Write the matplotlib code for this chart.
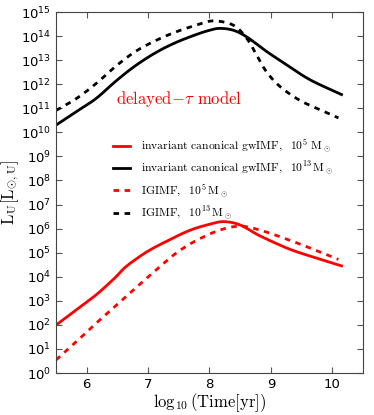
import numpy as np
import matplotlib
matplotlib.use("Agg")
import matplotlib.pyplot as plt
from matplotlib.ticker import LogLocator, NullLocator

# log10(L_U), vs log10(time/yr)
t_inv13 = [5.5, 5.83, 6.15, 6.48, 6.80, 7.13, 7.45, 7.78, 8.0, 8.17, 8.39, 8.61, 8.93, 9.26, 9.64, 10.15]
L_inv13 = [10.30, 10.86, 11.40, 12.14, 12.78, 13.32, 13.73, 14.06, 14.24, 14.32, 14.24, 13.96, 13.36, 12.80, 12.18, 11.57]

t_ig13 = [5.5, 5.83, 6.15, 6.48, 6.80, 7.13, 7.45, 7.78, 8.06, 8.39, 8.61, 8.77, 8.93, 9.15, 9.47, 9.8, 10.1]
L_ig13 = [10.91, 11.40, 12.02, 12.76, 13.37, 13.82, 14.17, 14.45, 14.63, 14.45, 13.89, 13.2, 12.51, 11.90, 11.33, 10.94, 10.6]

t_inv5 = [5.5, 5.83, 6.15, 6.45, 6.64, 6.97, 7.29, 7.67, 8.0, 8.23, 8.5, 8.82, 9.31, 9.75, 10.15]
L_inv5 = [1.99, 2.62, 3.24, 3.93, 4.42, 5.02, 5.46, 5.92, 6.18, 6.29, 6.15, 5.70, 5.14, 4.77, 4.45]

t_ig5 = [5.5, 5.83, 6.15, 6.48, 6.80, 7.13, 7.45, 7.78, 8.17, 8.5, 8.82, 9.26, 9.69, 10.1]
L_ig5 = [0.54, 1.30, 2.06, 2.81, 3.54, 4.28, 4.97, 5.50, 5.94, 6.10, 5.94, 5.56, 5.14, 4.72]

plt.rcParams['mathtext.fontset'] = 'cm'


def smooth(t, L, n=30):
    # Catmull-Rom through the read points, in log space
    t = np.asarray(t, float)
    L = np.asarray(L, float)
    tp = np.concatenate([[2 * t[0] - t[1]], t, [2 * t[-1] - t[-2]]])
    Lp = np.concatenate([[2 * L[0] - L[1]], L, [2 * L[-1] - L[-2]]])
    xs, ys = [], []
    for i in range(1, len(tp) - 2):
        s = np.linspace(0, 1, n, endpoint=False)
        for arr, out in ((tp, xs), (Lp, ys)):
            p0, p1, p2, p3 = arr[i - 1], arr[i], arr[i + 1], arr[i + 2]
            out.append(0.5 * (2 * p1 + (-p0 + p2) * s + (2 * p0 - 5 * p1 + 4 * p2 - p3) * s ** 2
                              + (-p0 + 3 * p1 - 3 * p2 + p3) * s ** 3))
    xs.append([t[-1]])
    ys.append([L[-1]])
    return np.concatenate(xs), 10 ** np.concatenate(ys)


fig = plt.figure(figsize=(3.74, 4.15), dpi=100)
ax = fig.add_axes([56/374, 1 - 373/415, (363-56)/374, (373-12)/415])

x, y = smooth(t_inv5, L_inv5)
ax.plot(x, y, color='red', lw=2, label=r'$\mathrm{invariant\ canonical\ gwIMF,\ \ 10^5\ M_\odot}$')
x, y = smooth(t_inv13, L_inv13)
ax.plot(x, y, color='black', lw=2, label=r'$\mathrm{invariant\ canonical\ gwIMF,\ \ 10^{13}\,M_\odot}$')
x, y = smooth(t_ig5, L_ig5)
ax.plot(x, y, color='red', lw=2, dashes=(2, 2), label=r'$\mathrm{IGIMF,\ \ 10^5\,M_\odot}$')
x, y = smooth(t_ig13, L_ig13)
ax.plot(x, y, color='black', lw=2, dashes=(2, 2), label=r'$\mathrm{IGIMF,\ \ 10^{13}\,M_\odot}$')

ax.set_yscale('log')
ax.set_xlim(5.5, 10.5)
ax.set_ylim(1, 1e15)
ax.yaxis.set_major_locator(LogLocator(base=10, numticks=20))
ax.yaxis.set_minor_locator(NullLocator())
ax.set_xticks([6, 7, 8, 9, 10])
ax.tick_params(direction='in', top=True, right=True, labelsize=9.5, length=4, color='#555555')
for s in ax.spines.values():
    s.set_color('#444444')

ax.set_xlabel(r'$\mathrm{\log_{10}(Time[yr])}$', fontsize=12, labelpad=0)
ax.set_ylabel(r'$\mathrm{L_U[L_{\odot,U}]}$', fontsize=12)
ax.yaxis.set_label_coords(-0.115, 0.5)

ax.text(0.197, 0.745, r'$\mathrm{delayed\!-\!\tau\ model}$', transform=ax.transAxes,
        color='red', fontsize=12)
ax.legend(loc='upper left', bbox_to_anchor=(0.17, 0.665), frameon=False, fontsize=8.4,
          handlelength=1.5, handletextpad=0.9, labelspacing=0.42, borderaxespad=0)

fig.savefig('out.png', dpi=100)
